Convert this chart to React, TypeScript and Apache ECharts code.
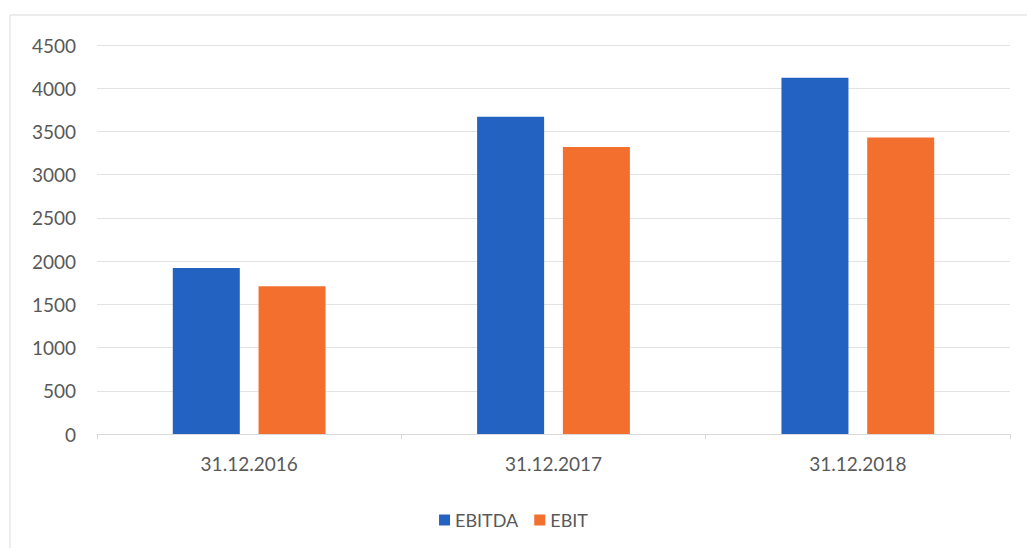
import React, { useEffect, useRef } from "react";
import * as echarts from "echarts";

const categories = ["31.12.2016", "31.12.2017", "31.12.2018"];
const ebitda = [1920, 3670, 4120];
const ebit = [1710, 3320, 3430];
const seriesNames = ["EBITDA", "EBIT"];

export default function App() {
  const ref = useRef<HTMLDivElement>(null);
  useEffect(() => {
    if (!ref.current) return;
    const chart = echarts.init(ref.current, undefined, { renderer: "svg" });
    const font = "Lato, 'Open Sans', sans-serif";
    chart.setOption({
      animation: false,
      backgroundColor: "#ffffff",
      textStyle: { fontFamily: font },
      graphic: [
        {
          type: "rect",
          shape: { x: 10, y: 15, width: 1030, height: 545 },
          style: { fill: "none", stroke: "#d9d9d9", lineWidth: 1 },
          silent: true,
        },
      ],
      legend: {
        data: seriesNames,
        left: "center",
        top: 506,
        itemWidth: 11,
        itemHeight: 11,
        itemGap: 16,
        icon: "rect",
        textStyle: { fontSize: 18, color: "#595959", fontFamily: font },
      },
      grid: { left: 97, right: 17, top: 45, bottom: 114 },
      xAxis: {
        type: "category",
        data: categories,
        axisLine: { lineStyle: { color: "#d9d9d9" } },
        axisTick: { show: true, length: 5, lineStyle: { color: "#d9d9d9" } },
        axisLabel: { fontSize: 19, color: "#595959", margin: 20, fontFamily: font },
      },
      yAxis: {
        type: "value",
        min: 0,
        max: 4500,
        interval: 500,
        axisLine: { show: false },
        axisTick: { show: false },
        axisLabel: {
          fontSize: 19,
          color: "#595959",
          margin: 21,
          fontFamily: font,
          formatter: (v: number) => String(v),
        },
        splitLine: { lineStyle: { color: "#e3e3e3" } },
      },
      series: [
        {
          name: seriesNames[0],
          type: "bar",
          data: ebitda,
          itemStyle: { color: "#2462c2" },
          barWidth: 67,
          barGap: "28%",
        },
        {
          name: seriesNames[1],
          type: "bar",
          data: ebit,
          itemStyle: { color: "#f26f2e" },
          barWidth: 67,
          barGap: "28%",
        },
      ],
    });
    return () => chart.dispose();
  }, []);
  return (
    <div
      ref={ref}
      style={{ position: "fixed", left: 0, top: 0, width: 1027, height: 548 }}
    />
  );
}
